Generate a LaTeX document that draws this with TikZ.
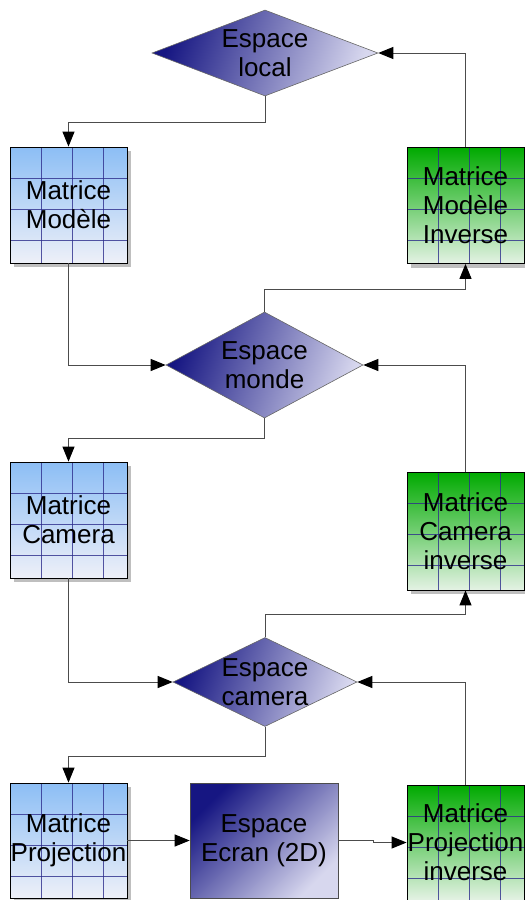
\documentclass[tikz,border=0pt]{standalone}
\usepackage{fontspec}
\setmainfont{Liberation Sans}
\usepackage{xcolor}
\usetikzlibrary{shapes,arrows.meta,calc,shadows,positioning}
\definecolor{bleuhaut}{RGB}{140,190,245}
\definecolor{bleubas}{RGB}{238,240,248}
\definecolor{verthaut}{RGB}{0,170,0}
\definecolor{vertbas}{RGB}{228,242,228}
\definecolor{marine}{RGB}{22,22,130}
\definecolor{lavande}{RGB}{215,215,238}
\definecolor{grille}{RGB}{45,45,140}
\newcommand{\txt}{\fontsize{26}{29}\selectfont}

\begin{document}
\begin{tikzpicture}[x=1pt,y=-1pt,line width=1pt,
  >={Triangle[length=15pt,width=12pt,color=black]},
  fleche/.style={->,draw=black!70},
  matrice/.style={rectangle,draw=black,line width=0.8pt,inner sep=0pt,
    minimum width=117pt,minimum height=116pt,align=center,font=\txt,
    drop shadow={shadow xshift=4pt,shadow yshift=-4pt,fill=black!25,opacity=1},
    path picture={
      \foreach \k in {1,2,3} {
        \draw[grille,opacity=0.8,line width=1pt]
          ([xshift=\k*31pt]path picture bounding box.north west) --
          ([xshift=\k*31pt]path picture bounding box.south west);
        \draw[grille,opacity=0.8,line width=1pt]
          ([yshift=-\k*31pt]path picture bounding box.north west) --
          ([yshift=-\k*31pt]path picture bounding box.north east);
      }}},
  bleu/.style={matrice,top color=bleuhaut,bottom color=bleubas},
  vert/.style={matrice,top color=verthaut,bottom color=vertbas},
  espace/.style={diamond,draw=black!60,line width=0.6pt,inner sep=0pt,
    left color=marine,right color=lavande,shading angle=70}]
        \useasboundingbox (0,0) rectangle (525,900);
        %%%%%%%%%%%%%%%%%%%%%%%%%%%espaces%%%%%%%%%%%%%%%%%%%%%%
          \node (local) at (265,53) [espace,minimum width=226pt,minimum height=86pt,
            label={[font=\txt,align=center]center:Espace\\local}] {};
          \node (monde) at (264.5,365) [espace,minimum width=197pt,minimum height=106pt,
            label={[font=\txt,align=center]center:Espace\\monde}] {};
          \node (cam) at (265,682) [espace,minimum width=184pt,minimum height=89pt,
            label={[font=\txt,align=center]center:Espace\\camera}] {};
          \node (ecran) at (264,840.5) [rectangle,draw=black!70,line width=0.6pt,
            minimum width=148pt,minimum height=115pt,inner sep=0pt,align=center,font=\txt,
            left color=marine,right color=lavande,shading angle=45] {Espace\\Ecran (2D)};
        %%%%%%%%%%%%%%%%%%%%%%%%%%%matrices%%%%%%%%%%%%%%%%%%%%%%
          \node (modele) at (68.5,205) [bleu] {Matrice\\Modèle};
          \node (camera) at (68.5,520) [bleu] {Matrice\\Camera};
          \node (proj) at (68.5,840.5) [bleu,minimum height=115pt] {Matrice\\Projection};
          \node (modeleinv) at (465.5,205.5) [vert] {Matrice\\Modèle\\Inverse};
          \node (camerainv) at (465.5,531) [vert,minimum height=118pt] {Matrice\\Camera\\inverse};
          \node (projinv) at (465.5,842.5) [vert,minimum height=115pt] {Matrice\\Projection\\inverse};
        %%%%%%%%%%%%%%%%%%%%%%%%%%%aller%%%%%%%%%%%%%%%%%%%%%%
          \draw [fleche](local.south) -- ++(0,26) -| (modele.north);
          \draw [fleche](modele.south) |- (monde.west);
          \draw [fleche](monde.south) -- ++(0,20) -| (camera.north);
          \draw [fleche](camera.south) |- (cam.west);
          \draw [fleche](cam.south) -- ++(0,30) -| (proj.north);
          \draw [fleche](proj.east) -- (ecran.west);
        %%%%%%%%%%%%%%%%%%%%%%%%%%%retour%%%%%%%%%%%%%%%%%%%%%%
          \draw [fleche](ecran.east) -- ++(35,0) |- (projinv.west);
          \draw [fleche](projinv.north) |- (cam.east);
          \draw [fleche](cam.north) -- ++(0,-23) -| (camerainv.south);
          \draw [fleche](camerainv.north) |- (monde.east);
          \draw [fleche](monde.north) -- ++(0,-22) -| (modeleinv.south);
          \draw [fleche](modeleinv.north) |- (local.east);
        \end{tikzpicture}
\end{document}
